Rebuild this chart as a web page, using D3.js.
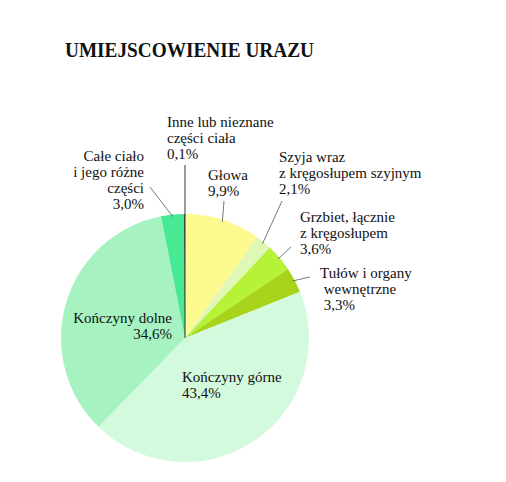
<!DOCTYPE html>
<html>
<head>
<meta charset="utf-8">
<script src="https://cdn.jsdelivr.net/npm/d3@7"></script>
<style>
  body { margin: 0; background: #fff; }
</style>
</head>
<body>
<div id="chart"></div>
<script>
// data, clockwise from 12 o'clock
var categories = ["Głowa", "Szyja", "Grzbiet", "Tułów", "Kończyny górne", "Kończyny dolne", "Całe ciało", "Inne"];
var values = [9.9, 2.1, 3.6, 3.3, 43.4, 34.6, 3.0, 0.1];
var labelLines = [
  ["Głowa", "9,9%"],
  ["Szyja wraz", "z kręgosłupem szyjnym", "2,1%"],
  ["Grzbiet, łącznie", "z kręgosłupem", "3,6%"],
  ["Tułów i organy", " wewnętrzne", " 3,3%"],
  ["Kończyny górne", "43,4%"],
  ["Kończyny dolne", "34,6%"],
  ["Całe ciało", "i jego różne", "części", "3,0%"],
  ["Inne lub nieznane", "części ciała", "0,1%"]
];
var colors = ["#fdfa8f", "#e0f7b6", "#b6f236", "#a7d31b", "#d3fadd", "#a6f2c1", "#48e995", "#2a2a2a"];

var svgWidth = 506;
var svgHeight = 482;
var cx = 185, cy = 338, radius = 124;
var fontFamily = "'Liberation Serif', 'DejaVu Serif', 'Times New Roman', serif";

// label layout: anchor x, first baseline y, text-anchor, leader end point
var labelPos = [
  { x: 208, y: 180, anchor: "start", lx: 224, ly: 201 },
  { x: 279, y: 162, anchor: "start", lx: 282, ly: 201 },
  { x: 300, y: 222, anchor: "start", lx: 291, ly: 247 },
  { x: 320, y: 278, anchor: "start", lx: 310, ly: 277 },
  { x: 182, y: 382, anchor: "start", lx: null },
  { x: 172, y: 323, anchor: "end", lx: null },
  { x: 144, y: 161, anchor: "end", lx: 150, ly: 187 },
  { x: 167, y: 127, anchor: "start", lx: null }
];
var lineHeight = 16;

var svg = d3.select("#chart")
  .append("svg")
  .attr("width", svgWidth)
  .attr("height", svgHeight);

svg.append("text")
  .attr("transform", "translate(65, 56.5) scale(1, 1.12)")
  .attr("font-family", fontFamily)
  .attr("font-size", 19.5)
  .attr("font-weight", "bold")
  .attr("fill", "#111")
  .attr("textLength", 249)
  .attr("lengthAdjust", "spacingAndGlyphs")
  .text("UMIEJSCOWIENIE URAZU");

var pie = d3.pie().sort(null).value(d => d);
var arcs = pie(values);

var arc = d3.arc().innerRadius(0).outerRadius(radius);
var edgeArc = d3.arc().innerRadius(radius - 2).outerRadius(radius - 2);

var pieGroup = svg.append("g")
  .attr("transform", `translate(${cx}, ${cy})`);

pieGroup.selectAll("path")
  .data(arcs)
  .enter()
  .append("path")
  .attr("d", arc)
  .attr("fill", (d, i) => colors[i]);

// leader lines
arcs.forEach(function(d, i) {
  var p = labelPos[i];
  if (p.lx === null) return;
  var c = edgeArc.centroid(d);
  pieGroup.append("line")
    .attr("x1", c[0])
    .attr("y1", c[1])
    .attr("x2", p.lx - cx)
    .attr("y2", p.ly - cy)
    .attr("stroke", "#555")
    .attr("stroke-width", 0.8);
});

// the tiny "Inne" slice is marked by a line from the centre
pieGroup.append("line")
  .attr("x1", 0).attr("y1", 0)
  .attr("x2", 0).attr("y2", -173)
  .attr("stroke", "#222")
  .attr("stroke-width", 0.9);

// labels
labelLines.forEach(function(lines, i) {
  var p = labelPos[i];
  var t = svg.append("text")
    .attr("text-anchor", p.anchor)
    .attr("font-family", fontFamily)
    .attr("font-size", 15)
    .attr("fill", "#111")
    .style("white-space", "pre");
  lines.forEach(function(s, j) {
    t.append("tspan")
      .attr("x", p.x)
      .attr("y", p.y + j * lineHeight)
      .text(s);
  });
});
</script>
</body>
</html>
